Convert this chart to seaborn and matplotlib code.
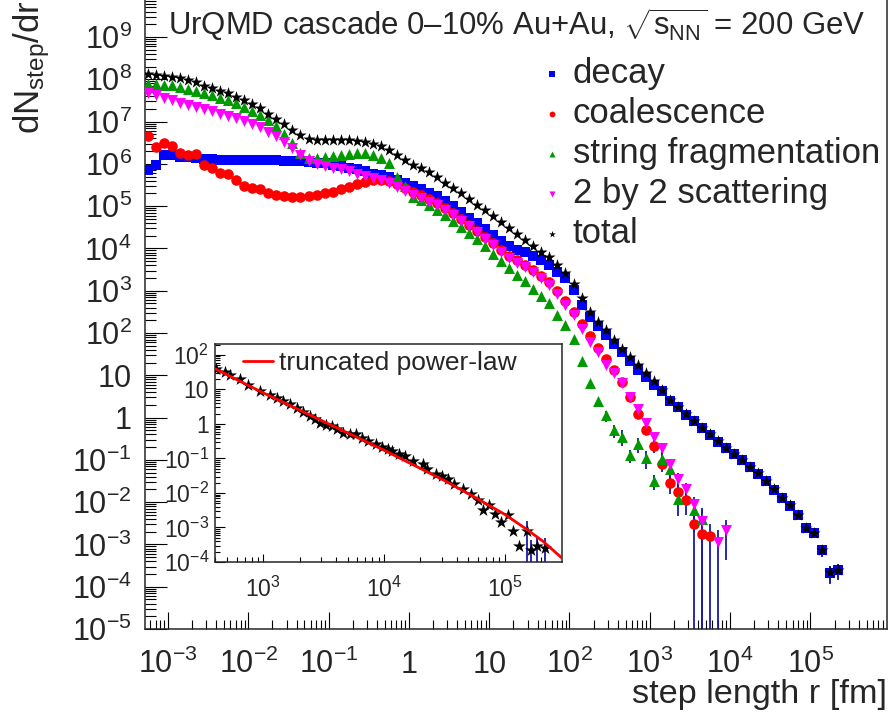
import numpy as np
import pandas as pd
import seaborn as sns
import matplotlib.pyplot as plt
from matplotlib.ticker import FixedLocator, LogLocator, FuncFormatter, NullFormatter

nan = np.nan

# log10 of the bin centres in fm (one row = one decade)
r_exp = [-3.25, -3.15, -3.05, -2.95, -2.85, -2.75, -2.65, -2.55, -2.45, -2.35,
         -2.25, -2.15, -2.05, -1.95, -1.85, -1.75, -1.65, -1.55, -1.45, -1.35,
         -1.25, -1.15, -1.05, -0.95, -0.85, -0.75, -0.65, -0.55, -0.45, -0.35,
         -0.25, -0.15, -0.05, 0.05, 0.15, 0.25, 0.35, 0.45, 0.55, 0.65,
         0.75, 0.85, 0.95, 1.05, 1.15, 1.25, 1.35, 1.45, 1.55, 1.65,
         1.75, 1.85, 1.95, 2.05, 2.15, 2.25, 2.35, 2.45, 2.55, 2.65,
         2.75, 2.85, 2.95, 3.05, 3.15, 3.25, 3.35, 3.45, 3.55, 3.65,
         3.75, 3.85, 3.95, 4.05, 4.15, 4.25, 4.35, 4.45, 4.55, 4.65,
         4.75, 4.85, 4.95, 5.05, 5.15, 5.25, 5.35]

# log10(dN_step/dr)
decay = [5.86, 5.98, 6.22, 6.20, 6.17, 6.16, 6.14, 6.12, 6.11, 6.10,
         6.10, 6.10, 6.09, 6.09, 6.09, 6.09, 6.09, 6.08, 6.07, 6.06,
         6.05, 6.03, 6.01, 5.98, 5.95, 5.91, 5.87, 5.82, 5.77, 5.74,
         5.69, 5.62, 5.55, 5.47, 5.40, 5.32, 5.24, 5.13, 5.00, 4.86,
         4.72, 4.60, 4.47, 4.33, 4.18, 4.05, 3.97, 3.91, 3.83, 3.72,
         3.60, 3.45, 3.30, 3.02, 2.66, 2.38, 2.16, 1.95, 1.74, 1.54,
         1.34, 1.13, 0.95, 0.78, 0.62, 0.40, 0.24, 0.07, -0.09, -0.25,
         -0.41, -0.57, -0.73, -0.87, -1.01, -1.17, -1.33, -1.51, -1.71, -1.91,
         -2.08, -2.31, -2.61, -2.73, -3.14, -3.67, -3.61]

coalescence = [6.67, 6.39, 6.50, 6.43, 6.25, 6.21, 6.23, 5.98, 5.90, 5.78,
               5.77, 5.62, 5.48, 5.43, 5.40, 5.31, 5.26, 5.24, 5.22, 5.21,
               5.23, 5.26, 5.30, 5.34, 5.40, 5.45, 5.52, 5.57, 5.61, 5.62,
               5.60, 5.52, 5.43, 5.33, 5.26, 5.16, 5.08, 4.95, 4.83, 4.70,
               4.56, 4.42, 4.27, 4.12, 3.97, 3.83, 3.72, 3.62, 3.50, 3.36,
               3.20, 3.00, 2.76, 2.50, 2.21, 1.92, 1.65, 1.38, 1.12, 0.84,
               0.49, 0.08, -0.30, -0.68, -1.10, -1.55, -1.75, -1.95, -2.51, -2.75,
               -2.81]

string_frag = [7.90, 7.89, 7.87, 7.86, 7.82, 7.78, 7.73, 7.68, 7.63, 7.57,
               7.50, 7.43, 7.35, 7.26, 7.16, 7.04, 6.90, 6.70, 6.50, 6.25,
               6.13, 6.14, 6.16, 6.19, 6.21, 6.23, 6.25, 6.25, 6.22, 6.15,
               6.02, 5.70, 5.48, 5.22, 5.15, 5.02, 4.91, 4.78, 4.65, 4.51,
               4.37, 4.22, 4.06, 3.88, 3.70, 3.54, 3.38, 3.24, 3.05, 2.88,
               2.70, 2.42, 2.18, 1.85, 1.35, 0.82, 0.40, 0.05, -0.30, -0.45,
               -0.89, -0.62, -0.95, -1.50, -0.98, -1.22, -1.93, nan, -2.18, -2.41]

scattering = [7.67, 7.62, 7.56, 7.50, 7.45, 7.40, 7.34, 7.29, 7.24, 7.19,
              7.14, 7.09, 7.02, 6.95, 6.87, 6.76, 6.65, 6.52, 6.38, 6.22,
              6.08, 6.00, 5.95, 5.91, 5.87, 5.82, 5.77, 5.72, 5.66, 5.61,
              5.55, 5.46, 5.37, 5.26, 5.19, 5.10, 5.02, 4.90, 4.78, 4.66,
              4.52, 4.38, 4.22, 4.07, 3.92, 3.77, 3.66, 3.56, 3.45, 3.30,
              3.13, 2.92, 2.66, 2.42, 2.10, 1.78, 1.55, 1.25, 1.05, 0.82,
              0.49, 0.20, -0.12, -0.45, -0.72, -1.10, -1.45, -1.70, -2.05, -2.45,
              nan, -2.95, -2.67]

total = [8.12, 8.11, 8.08, 8.05, 8.02, 7.98, 7.93, 7.85, 7.79, 7.73,
         7.67, 7.59, 7.50, 7.42, 7.32, 7.19, 7.06, 6.94, 6.81, 6.69,
         6.60, 6.57, 6.56, 6.56, 6.56, 6.56, 6.55, 6.52, 6.48, 6.42,
         6.34, 6.22, 6.10, 5.97, 5.90, 5.80, 5.69, 5.54, 5.42, 5.30,
         5.17, 5.03, 4.90, 4.76, 4.62, 4.48, 4.34, 4.20, 4.06, 3.92,
         3.80, 3.61, 3.43, 3.15, 2.83, 2.50, 2.27, 2.06, 1.84, 1.62,
         1.43, 1.25, 1.06, 0.86, 0.66, 0.42, 0.25, 0.08, -0.08, -0.24,
         -0.40, -0.56, -0.72, -0.86, -1.00, -1.16, -1.32, -1.50, -1.70, -1.90,
         -2.07, -2.30, -2.60, -2.72, -3.13, -3.66, -3.60]

# relative errors of the last points of each series
decay_err = [0.12, 0.15, 0.2, 0.2, 0.3, 0.45, 0.4]
coalescence_err = [0.3, 0.35, 0.45, 0.5, 0.55, 1.0, 1.0, 1.0]
string_err = [0.3, 0.35, 0.4, 0.35, 0.4, 0.45, 0.4, 0.45, 0.5, 0.6, nan, 0.7, 0.7]
scattering_err = [0.2, 0.25, 0.3, 0.35, 0.4, 0.45, 0.5, 1.0, nan, 1.0, 0.8]
total_err = [0.12, 0.15, 0.2, 0.2, 0.3, 0.45, 0.4]

# inset: total at large r and the truncated power-law fit
inset_exp = [2.61, 2.68, 2.725, 2.81, 2.876, 2.97, 3.055, 3.11, 3.165, 3.22,
             3.276, 3.33, 3.386, 3.43, 3.47, 3.52, 3.565, 3.61, 3.66, 3.72,
             3.77, 3.82, 3.87, 3.93, 3.98, 4.03, 4.07, 4.12, 4.17, 4.24,
             4.32, 4.36, 4.43, 4.48, 4.53, 4.58, 4.65, 4.72, 4.78, 4.82,
             4.87, 4.915, 4.97, 5.025, 5.07, 5.12, 5.18, 5.22, 5.27, 5.33]
inset_total = [1.59, 1.50, 1.43, 1.30, 1.14, 0.95, 0.83, 0.74, 0.66, 0.57,
               0.47, 0.36, 0.23, 0.14, 0.04, -0.02, -0.06, -0.16, -0.25, -0.30,
               -0.29, -0.40, -0.49, -0.58, -0.68, -0.72, -0.78, -0.86, -0.92, -1.07,
               -1.16, -1.30, -1.45, -1.50, -1.59, -1.74, -1.88, -2.02, -2.21, -2.50,
               -2.36, -2.60, -2.84, -2.65, -3.11, -3.55, -3.09, -3.65, -3.53, -3.58]
inset_err = [0.9, 0.9, 0.9, 0.9]
fit_exp = [2.60, 3.0, 3.5, 4.0, 4.5, 4.75, 5.0, 5.18, 5.32, 5.475]
fit_val = [1.60, 0.90, 0.07, -0.76, -1.64, -2.12, -2.62, -3.05, -3.41, -3.89]

BLUE = '#0000ff'
RED = '#ff0000'
GREEN = '#009a00'
MAGENTA = '#ff00ff'
ERRC = '#1a1aa6'

sns.set_style('ticks')
plt.rcParams['font.family'] = ['Liberation Sans', 'DejaVu Sans']
plt.rcParams['mathtext.fontset'] = 'custom'
plt.rcParams['mathtext.rm'] = 'Liberation Sans'
plt.rcParams['mathtext.it'] = 'Liberation Sans:italic'
plt.rcParams['mathtext.default'] = 'regular'
plt.rcParams['axes.linewidth'] = 1.1


def frame(exps, vals):
    n = len(vals)
    d = pd.DataFrame({'r': np.power(10.0, np.array(exps[:n], dtype=float)),
                      'dN': np.power(10.0, np.array(vals, dtype=float))})
    return d


def root_log(v, pos):
    e = int(round(np.log10(v)))
    if e == 0:
        return '1'
    if e == 1:
        return '10'
    return r'$10^{%d}$' % e


def errors(ax, d, rel):
    tail = d.iloc[len(d) - len(rel):].copy()
    tail['rel'] = rel
    tail = tail.dropna()
    err = tail['dN'] * tail['rel']
    ax.errorbar(tail['r'], tail['dN'], yerr=[err, err], fmt='none',
                ecolor=ERRC, elinewidth=1.3, capsize=0, zorder=2)


fig = plt.figure(figsize=(8.9, 7.26), dpi=100)
ax = fig.add_axes([145 / 890, 1 - 629 / 726, 742 / 890, 629 / 726])
ax.set(xscale='log', yscale='log')

series = [
    ('decay', decay, decay_err, 's', BLUE, 56),
    ('coalescence', coalescence, coalescence_err, 'o', RED, 58),
    ('string fragmentation', string_frag, string_err, '^', GREEN, 62),
    ('2 by 2 scattering', scattering, scattering_err, 'v', MAGENTA, 62),
    ('total', total, total_err, '*', 'black', 85),
]
for name, vals, rel, mk, col, size in series:
    d = frame(r_exp, vals)
    errors(ax, d, rel)
    sns.scatterplot(data=d.dropna(), x='r', y='dN', marker=mk, color=col, s=size,
                    linewidth=0, label=name, ax=ax, zorder=3, legend=False)

ax.set_xlim(10 ** -3.2864, 10 ** 5.954)
ax.set_ylim(1e-5, 10 ** 9.876)

ax.xaxis.set_major_locator(FixedLocator(10.0 ** np.arange(-3, 6)))
ax.xaxis.set_minor_locator(LogLocator(base=10, subs=np.arange(2, 10), numticks=60))
ax.yaxis.set_major_locator(FixedLocator(10.0 ** np.arange(-5, 10)))
ax.yaxis.set_minor_locator(LogLocator(base=10, subs=np.arange(2, 10), numticks=60))
ax.xaxis.set_major_formatter(FuncFormatter(root_log))
ax.yaxis.set_major_formatter(FuncFormatter(root_log))
ax.xaxis.set_minor_formatter(NullFormatter())
ax.yaxis.set_minor_formatter(NullFormatter())

ax.spines['top'].set_visible(False)
ax.tick_params(which='both', direction='in', top=False, right=False,
               width=0.8, color='black', labelsize=22)
ax.tick_params(axis='y', which='major', length=15.8, pad=9.4)
ax.tick_params(axis='y', which='minor', length=7.9)
ax.tick_params(axis='x', which='major', length=12.2, pad=32)
ax.tick_params(axis='x', which='minor', length=6.5)
plt.setp(ax.get_xticklabels(), va='baseline')

ax.set_xlabel('step length r [fm]', fontsize=24.7, loc='right')
ax.xaxis.label.set_va('baseline')
ax.xaxis.set_label_coords(1.0, -0.118)
ax.set_ylabel(r'$dN_{step}/dr$', fontsize=25, loc='top')
ax.yaxis.set_label_coords(-0.126, 1.0)

ax.legend(loc='upper left', bbox_to_anchor=(0.525, 0.909), frameon=False,
          fontsize=25, markerscale=0.55, scatterpoints=1, handlelength=1.0,
          handletextpad=0.1, labelspacing=0.2, borderpad=0, borderaxespad=0)

fig.text(168 / 890, 1 - 35 / 726,
         r'UrQMD cascade 0–10% Au+Au, $\sqrt{s_{NN}}$ = 200 GeV',
         fontsize=22.4, ha='left', va='baseline')

# inset
axin = fig.add_axes([215 / 890, 1 - 562 / 726, 347 / 890, 218 / 726])
axin.set_facecolor('white')
axin.set(xscale='log', yscale='log')
fit = frame(fit_exp, fit_val)
sns.lineplot(data=fit, x='r', y='dN', color=RED, linewidth=2.0, ax=axin,
             label='truncated power-law', zorder=4)
din = frame(inset_exp, inset_total)
errors(axin, din, inset_err)
sns.scatterplot(data=din, x='r', y='dN', marker='*', color='black', s=95,
                linewidth=0, ax=axin, zorder=3, legend=False)
axin.set_xlim(10 ** 2.60, 10 ** 5.474)
axin.set_ylim(1e-4, 10 ** 2.316)
axin.xaxis.set_major_locator(FixedLocator(10.0 ** np.arange(3, 6)))
axin.xaxis.set_minor_locator(LogLocator(base=10, subs=np.arange(2, 10), numticks=60))
axin.yaxis.set_major_locator(FixedLocator(10.0 ** np.arange(-4, 3)))
axin.yaxis.set_minor_locator(LogLocator(base=10, subs=np.arange(2, 10), numticks=60))
axin.xaxis.set_major_formatter(FuncFormatter(root_log))
axin.yaxis.set_major_formatter(FuncFormatter(root_log))
axin.xaxis.set_minor_formatter(NullFormatter())
axin.yaxis.set_minor_formatter(NullFormatter())
axin.tick_params(which='both', direction='in', top=False, right=False,
                 width=0.8, color='black', labelsize=16.5)
axin.tick_params(axis='y', which='major', length=7, pad=4.3)
axin.tick_params(axis='y', which='minor', length=3.5)
axin.tick_params(axis='x', which='major', length=6, pad=25)
axin.tick_params(axis='x', which='minor', length=3.5)
plt.setp(axin.get_xticklabels(), va='baseline')
axin.set_xlabel('')
axin.set_ylabel('')
axin.legend(handles=axin.get_lines()[:1], loc='upper left',
            bbox_to_anchor=(0.081, 0.968), frameon=False, fontsize=19,
            handlelength=1.15, handletextpad=0.22, borderpad=0, borderaxespad=0)

fig.savefig('out.png', dpi=100)
